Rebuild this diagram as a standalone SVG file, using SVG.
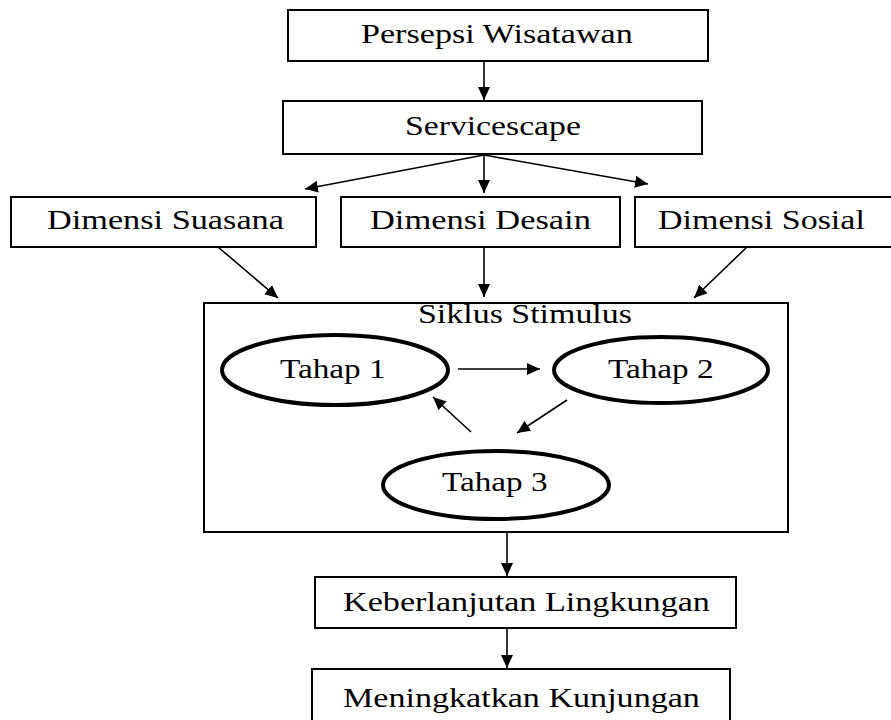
<svg xmlns="http://www.w3.org/2000/svg" width="891" height="720" viewBox="0 0 891 720">
<defs>
<style>
.box{fill:#fff;stroke:#000;stroke-width:2}
.ell{fill:#fff;stroke:#000;stroke-width:4}
.lbl{font-family:"Liberation Serif","Times New Roman",serif;font-size:28px;fill:#000}
.con{fill:none;stroke:#000;stroke-width:1.6}
</style>
<marker id="ah" markerUnits="userSpaceOnUse" markerWidth="14" markerHeight="14" viewBox="0 0 14 14" refX="13" refY="7" orient="auto">
<path d="M0,1 L13,7 L0,13 Z" fill="#000"/>
</marker>
</defs>
<rect width="891" height="720" fill="#fff"/>
<g id="persepsi"><rect class="box" x="288" y="10" width="420" height="51"/><text class="lbl" transform="translate(361,43) scale(1.219,1)">Persepsi Wisatawan</text></g>
<g id="servicescape"><rect class="box" x="283" y="101" width="419" height="53"/><text class="lbl" transform="translate(405,135) scale(1.204,1)">Servicescape</text></g>
<g id="suasana"><rect class="box" x="11" y="197" width="305" height="50"/><text class="lbl" transform="translate(47,229) scale(1.224,1)">Dimensi Suasana</text></g>
<g id="desain"><rect class="box" x="341" y="197" width="279" height="50"/><text class="lbl" transform="translate(370,229) scale(1.23,1)">Dimensi Desain</text></g>
<g id="sosial"><rect class="box" x="635" y="197" width="262" height="50"/><text class="lbl" transform="translate(658,229) scale(1.215,1)">Dimensi Sosial</text></g>
<g id="siklus"><rect class="box" x="204" y="303" width="584" height="229"/><text class="lbl" transform="translate(418,323) scale(1.212,1)">Siklus Stimulus</text></g>
<g id="tahap1"><ellipse class="ell" cx="335" cy="370" rx="113" ry="35"/><text class="lbl" transform="translate(280,378) scale(1.187,1)">Tahap 1</text></g>
<g id="tahap2"><ellipse class="ell" cx="661" cy="370" rx="107" ry="33"/><text class="lbl" transform="translate(608,378) scale(1.187,1)">Tahap 2</text></g>
<g id="tahap3"><ellipse class="ell" cx="496" cy="485" rx="113" ry="34"/><text class="lbl" transform="translate(442,491) scale(1.187,1)">Tahap 3</text></g>
<g id="keberlanjutan"><rect class="box" x="315" y="577" width="421" height="51"/><text class="lbl" transform="translate(343,611) scale(1.22,1)">Keberlanjutan Lingkungan</text></g>
<g id="meningkatkan"><rect class="box" x="312" y="669" width="418" height="60"/><text class="lbl" transform="translate(343,707) scale(1.218,1)">Meningkatkan Kunjungan</text></g>
<g id="connectors" class="con">
<line x1="484" y1="61" x2="484" y2="100" marker-end="url(#ah)"/>
<line x1="484" y1="155" x2="305" y2="189" marker-end="url(#ah)"/>
<line x1="484" y1="155" x2="484" y2="193" marker-end="url(#ah)"/>
<line x1="484" y1="155" x2="648" y2="184" marker-end="url(#ah)"/>
<line x1="218" y1="247" x2="278" y2="298" marker-end="url(#ah)"/>
<line x1="484" y1="247" x2="484" y2="297" marker-end="url(#ah)"/>
<line x1="747" y1="247" x2="694" y2="298" marker-end="url(#ah)"/>
<line x1="458" y1="369" x2="540" y2="369" marker-end="url(#ah)"/>
<line x1="567" y1="400" x2="517" y2="433" marker-end="url(#ah)"/>
<line x1="471" y1="432" x2="433" y2="397" marker-end="url(#ah)"/>
<line x1="507" y1="533" x2="507" y2="576" marker-end="url(#ah)"/>
<line x1="507" y1="629" x2="507" y2="668" marker-end="url(#ah)"/>
</g>
</svg>
